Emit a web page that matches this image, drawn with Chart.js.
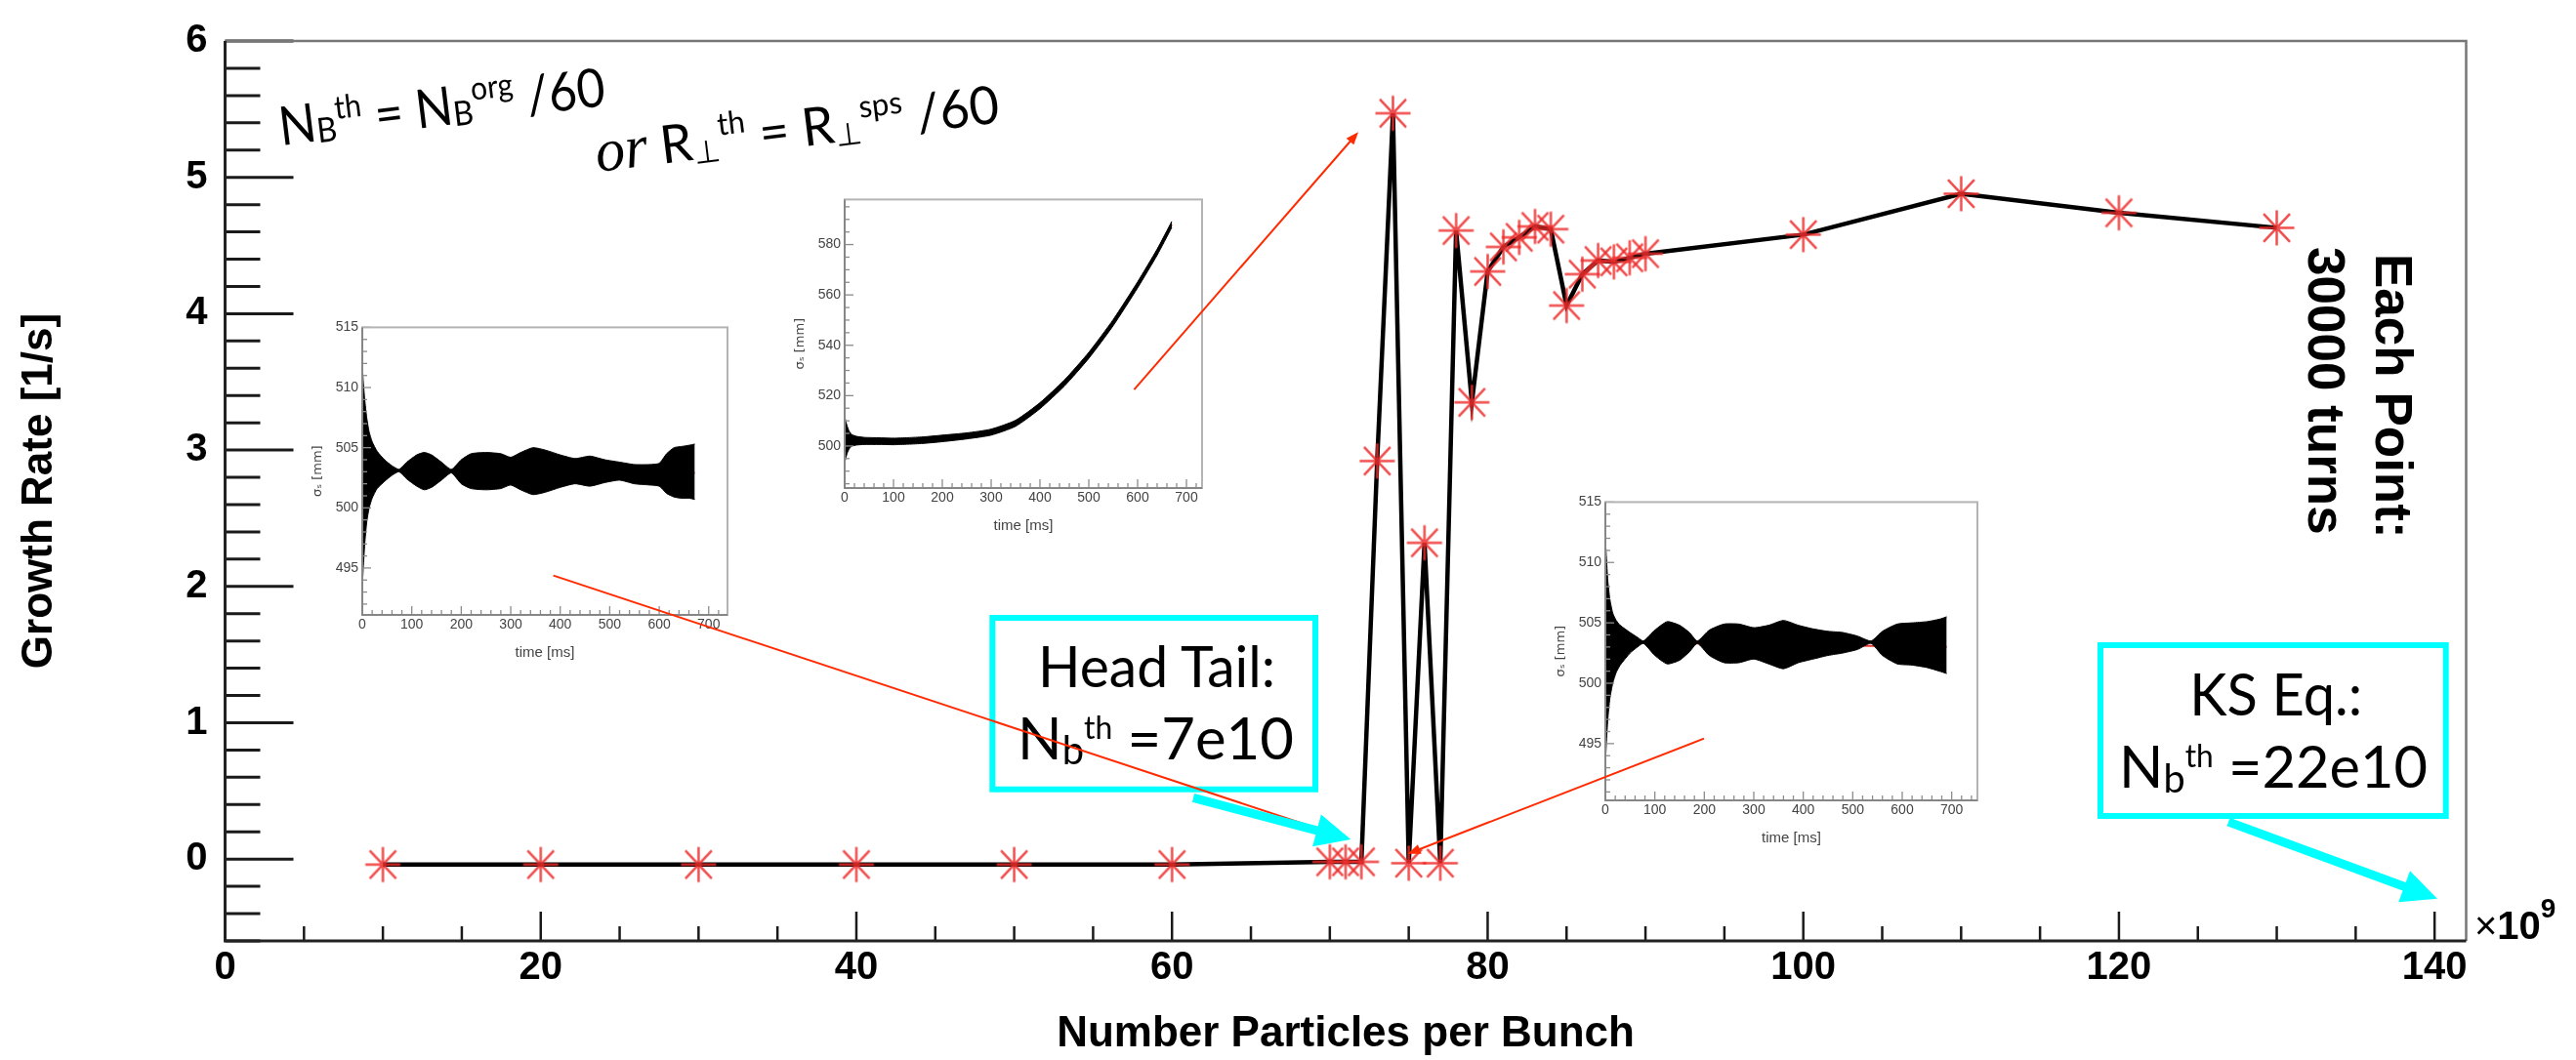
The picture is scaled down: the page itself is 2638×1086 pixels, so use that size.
<!DOCTYPE html>
<html>
<head>
<meta charset="utf-8">
<title>Growth Rate vs Number Particles per Bunch</title>
<script src="https://cdn.jsdelivr.net/npm/chart.js@4.4.1/dist/chart.umd.min.js"></script>
<style>
  html, body { margin: 0; padding: 0; background: #fff; }
  #stage { position: relative; width: 2638px; height: 1086px; overflow: hidden; background: #fff; }
  #stage canvas, #stage svg { position: absolute; }
</style>
</head>
<body>
<div id="stage">
  <canvas id="growthChart" width="2638" height="1086" style="left:0;top:0"></canvas>
  <svg id="overlay" width="2638" height="1086" style="left:0;top:0" xmlns="http://www.w3.org/2000/svg"></svg>
</div>
<script>
// ---- main curve: growth rate vs particles per bunch (x in 1e9) ----
const growthX = [10, 20, 30, 40, 50, 60, 70, 71, 72, 73, 74, 75, 76, 77, 78, 79, 80, 81, 82, 83, 84, 85, 86, 87, 88, 89, 90, 100, 110, 120, 130];
const growthY = [-0.04, -0.04, -0.04, -0.04, -0.04, -0.04, -0.02, -0.02, -0.02, 2.92, 5.47, -0.03, 2.32, -0.03, 4.61, 3.35, 4.31, 4.49, 4.56, 4.64, 4.62, 4.06, 4.29, 4.39, 4.38, 4.41, 4.44, 4.58, 4.88, 4.74, 4.63];
const xTickValues = [0, 20, 40, 60, 80, 100, 120, 140];
const yTickValues = [0, 1, 2, 3, 4, 5, 6];

// ---- inset 1 : sigma_s vs time, stable case ----
const ins1Time  = [0, 2, 5, 9, 14, 20, 30, 45, 60, 74, 90, 110, 125, 140, 160, 180, 200, 220, 250, 280, 300, 320, 345, 370, 400, 430, 460, 490, 520, 550, 580, 600, 615, 630, 645, 660, 672];
const ins1Upper = [512.0, 510.5, 509.0, 507.5, 506.3, 505.5, 504.7, 504.0, 503.5, 503.2, 503.8, 504.4, 504.6, 504.4, 503.8, 503.2, 504.0, 504.5, 504.6, 504.5, 504.2, 504.6, 505.0, 504.8, 504.4, 504.1, 504.3, 504.0, 503.8, 503.6, 503.6, 503.7, 504.5, 505.0, 505.1, 505.2, 505.3];
const ins1Lower = [493.3, 495.0, 497.0, 498.8, 500.0, 500.8, 501.6, 502.2, 502.7, 503.0, 502.4, 501.8, 501.5, 501.7, 502.3, 502.9, 502.0, 501.6, 501.5, 501.6, 501.9, 501.5, 501.1, 501.3, 501.7, 502.0, 501.8, 502.1, 502.3, 502.0, 501.9, 501.8, 501.2, 500.9, 500.8, 500.8, 500.7];
const ins1FitT  = [5, 672];
const ins1Fit   = [503.1, 502.9];

// ---- inset 2 : sigma_s vs time, unstable (growing) case ----
const ins2Time  = [0, 2, 5, 9, 15, 25, 40, 60, 80, 100, 130, 160, 200, 250, 300, 350, 400, 450, 500, 550, 600, 640, 670];
const ins2Upper = [512.2, 510.0, 508.0, 506.0, 504.5, 503.8, 503.4, 503.3, 503.2, 503.1, 503.3, 503.6, 504.3, 505.2, 506.7, 510.2, 517.2, 526.2, 537.2, 550.2, 565.2, 578.2, 589.2];
const ins2Lower = [493.0, 495.0, 497.0, 498.8, 500.0, 500.4, 500.6, 500.6, 500.6, 500.5, 500.7, 501.0, 501.7, 502.8, 504.3, 507.8, 514.8, 523.8, 534.8, 547.8, 562.8, 575.8, 586.8];
const ins2FitT  = [10, 100, 200, 300, 400, 500, 600, 670];
const ins2Fit   = [502.2, 501.9, 503.0, 505.5, 516.0, 536.0, 564.0, 588.0];

// ---- inset 3 : sigma_s vs time, stable case ----
const ins3Time  = [0, 2, 5, 9, 15, 22, 30, 50, 65, 77, 100, 125, 150, 170, 186, 210, 240, 270, 300, 330, 360, 390, 420, 450, 480, 510, 537, 560, 590, 620, 650, 675, 690];
const ins3Upper = [512.1, 510.5, 508.5, 507.0, 505.8, 505.2, 504.8, 504.2, 503.8, 503.5, 504.4, 505.1, 504.8, 504.2, 503.5, 504.4, 504.9, 504.9, 504.6, 504.8, 505.2, 504.8, 504.5, 504.3, 504.2, 503.9, 503.5, 504.3, 504.9, 505.0, 505.1, 505.3, 505.5];
const ins3Lower = [493.2, 495.0, 497.0, 498.7, 500.0, 500.9, 501.5, 502.5, 503.0, 503.3, 502.3, 501.6, 501.9, 502.6, 503.3, 502.3, 501.7, 501.7, 502.0, 501.6, 501.2, 501.7, 502.0, 502.3, 502.5, 502.8, 503.3, 502.3, 501.6, 501.5, 501.3, 501.0, 500.8];
const ins3FitT  = [5, 690];
const ins3Fit   = [503.4, 503.0];

const insetXTicks = [0, 100, 200, 300, 400, 500, 600, 700];
const insetYTicks = [495, 500, 505, 510, 515];
const inset2YTicks = [500, 520, 540, 560, 580];

Chart.defaults.font.family = '"Liberation Sans", Arial, Helvetica, sans-serif';
Chart.defaults.color = '#000';

const pts = (xs, ys) => xs.map((x, i) => ({ x: x, y: ys[i] }));

// ROOT style asterisk marker
function makeStar(r, color, lw) {
    const c = document.createElement('canvas');
    const s = Math.ceil(2 * r + 2 * lw);
    c.width = s; c.height = s;
    const g = c.getContext('2d');
    g.translate(s / 2, s / 2);
    g.strokeStyle = color;
    g.lineWidth = lw;
    g.beginPath();
    g.moveTo(-r, 0); g.lineTo(r, 0);
    g.moveTo(0, -r); g.lineTo(0, r);
    g.moveTo(-0.75 * r, -0.8 * r); g.lineTo(0.75 * r, 0.8 * r);
    g.moveTo(0.75 * r, -0.8 * r); g.lineTo(-0.75 * r, 0.8 * r);
    g.stroke();
    return c;
}

// frame + inward ticks like a ROOT canvas
const rootFrame = {
    id: 'rootFrame',
    beforeDatasetsDraw(chart) {
        const { ctx, chartArea: a, scales: { x, y } } = chart;
        ctx.save();
        ctx.strokeStyle = '#1a1a1a';
        ctx.lineWidth = 3;
        for (let k = -3; k <= 30; k++) {
            const p = y.getPixelForValue(k / 5);
            const len = k % 5 === 0 ? 70 : 36;
            ctx.beginPath(); ctx.moveTo(a.left, p); ctx.lineTo(a.left + len, p); ctx.stroke();
        }
        ctx.lineWidth = 2.5;
        for (let k = 1; k <= 28; k++) {
            const p = x.getPixelForValue(k * 5);
            const len = k % 4 === 0 ? 30 : 15;
            ctx.beginPath(); ctx.moveTo(p, a.bottom); ctx.lineTo(p, a.bottom - len); ctx.stroke();
        }
        // top / right frame
        ctx.strokeStyle = '#777';
        ctx.lineWidth = 2.5;
        ctx.beginPath();
        ctx.moveTo(a.left, a.top); ctx.lineTo(a.right, a.top); ctx.lineTo(a.right, a.bottom);
        ctx.stroke();
        // axes
        ctx.strokeStyle = '#222';
        ctx.lineWidth = 3;
        ctx.beginPath();
        ctx.moveTo(a.left, a.top); ctx.lineTo(a.left, a.bottom); ctx.lineTo(a.right, a.bottom);
        ctx.stroke();
        ctx.restore();
    }
};

const starImg = makeStar(18, 'rgba(238,45,45,0.85)', 2.5);

const mainChart = new Chart(document.getElementById('growthChart'), {
    type: 'line',
    data: {
        datasets: [{
            data: pts(growthX, growthY),
            borderColor: '#000',
            borderWidth: 4.5,
            tension: 0,
            fill: false,
            pointStyle: starImg,
            pointRadius: 18
        }]
    },
    options: {
        responsive: false,
        animation: false,
        events: [],
        layout: { padding: { top: 27, right: 112.5, left: 0, bottom: 0 } },
        plugins: { legend: { display: false }, tooltip: { enabled: false } },
        scales: {
            x: {
                type: 'linear', min: 0, max: 142,
                afterBuildTicks: s => { s.ticks = xTickValues.map(v => ({ value: v })); },
                afterFit: s => { s.height = 122; },
                grid: { display: false, drawTicks: false },
                border: { display: false },
                ticks: { font: { size: 40, weight: 'bold' }, padding: 4, maxRotation: 0, autoSkip: false },
                title: { display: true, text: 'Number Particles per Bunch', font: { size: 44, weight: 'bold' }, padding: { top: 0, bottom: 0 } }
            },
            y: {
                type: 'linear', min: -0.6, max: 6,
                afterBuildTicks: s => { s.ticks = yTickValues.map(v => ({ value: v })); },
                afterFit: s => { s.width = 230.5; },
                grid: { display: false, drawTicks: false },
                border: { display: false },
                ticks: { font: { size: 40, weight: 'bold' }, padding: 18 },
                title: { display: true, text: 'Growth Rate [1/s]', font: { size: 44, weight: 'bold' }, padding: { top: 14, bottom: 0 } }
            }
        }
    },
    plugins: [rootFrame]
});

// ---- small sigma_s(t) insets ----
const insetFrame = {
    id: 'insetFrame',
    afterDatasetsDraw(chart, args, opts) {
        const { ctx, chartArea: a, scales: { x, y } } = chart;
        ctx.save();
        ctx.strokeStyle = '#8c8c8c';
        ctx.lineWidth = 1.3;
        for (let v = Math.ceil(y.min / opts.yMinor) * opts.yMinor; v <= y.max; v += opts.yMinor) {
            const p = y.getPixelForValue(v);
            const len = opts.yMajors.includes(v) ? 9 : 5;
            ctx.beginPath(); ctx.moveTo(a.left, p); ctx.lineTo(a.left + len, p); ctx.stroke();
        }
        for (let v = 20; v <= x.max; v += 20) {
            const p = x.getPixelForValue(v);
            const len = v % 100 === 0 ? 9 : 5;
            ctx.beginPath(); ctx.moveTo(p, a.bottom); ctx.lineTo(p, a.bottom - len); ctx.stroke();
        }
        ctx.strokeStyle = '#b4b4b4';
        ctx.lineWidth = 2;
        ctx.strokeRect(a.left, a.top, a.right - a.left, a.bottom - a.top);
        ctx.strokeStyle = '#777';
        ctx.lineWidth = 1.5;
        ctx.beginPath(); ctx.moveTo(a.left, a.top); ctx.lineTo(a.left, a.bottom); ctx.lineTo(a.right, a.bottom); ctx.stroke();
        ctx.restore();
    }
};

function insetChart(frame, xMax, yMin, yMax, yTicks, yMinor, t, up, lo, fitT, fit) {
    const padL = 60, padT = 10, padR = 12, padB = 48;
    const cv = document.createElement('canvas');
    cv.width = frame.right - frame.left + padL + padR;
    cv.height = frame.bottom - frame.top + padT + padB;
    cv.style.left = (frame.left - padL) + 'px';
    cv.style.top = (frame.top - padT) + 'px';
    const stage = document.getElementById('stage');
    stage.insertBefore(cv, document.getElementById('overlay'));
    const small = { size: 14 };
    return new Chart(cv, {
        type: 'line',
        data: {
            datasets: [
                { data: pts(t, up), borderColor: '#000', borderWidth: 1, pointRadius: 0, tension: 0.2, fill: false },
                { data: pts(t, lo), borderColor: '#000', borderWidth: 1, pointRadius: 0, tension: 0.2, fill: '-1', backgroundColor: '#000' },
                { data: pts(fitT, fit), borderColor: '#e8332a', borderWidth: 2, pointRadius: 0, tension: 0.4, fill: false }
            ]
        },
        options: {
            responsive: false,
            animation: false,
            events: [],
            layout: { padding: { top: padT, right: padR, left: 0, bottom: 0 } },
            plugins: {
                legend: { display: false }, tooltip: { enabled: false },
                insetFrame: { yMinor: yMinor, yMajors: yTicks }
            },
            scales: {
                x: {
                    type: 'linear', min: 0, max: xMax,
                    afterBuildTicks: s => { s.ticks = insetXTicks.map(v => ({ value: v })); },
                    afterFit: s => { s.height = padB; },
                    grid: { display: false, drawTicks: false },
                    border: { display: false },
                    ticks: { font: small, color: '#444', padding: 2, maxRotation: 0, autoSkip: false },
                    title: { display: true, text: 'time [ms]', color: '#444', font: { size: 15 }, padding: { top: 0, bottom: 0 } }
                },
                y: {
                    type: 'linear', min: yMin, max: yMax,
                    afterBuildTicks: s => { s.ticks = yTicks.map(v => ({ value: v })); },
                    afterFit: s => { s.width = padL; },
                    grid: { display: false, drawTicks: false },
                    border: { display: false },
                    ticks: { font: small, color: '#444', padding: 4 },
                    title: { display: true, text: 'σₛ [mm]', color: '#444', font: { size: 13, family: '"DejaVu Sans", sans-serif' }, padding: { top: 7, bottom: 0 } }
                }
            }
        },
        plugins: [insetFrame]
    });
}

insetChart({ left: 371, top: 333, right: 745, bottom: 630 }, 738, 491.1, 515, insetYTicks, 1,
    ins1Time, ins1Upper, ins1Lower, ins1FitT, ins1Fit);
insetChart({ left: 865, top: 202, right: 1231, bottom: 500 }, 732, 483.3, 597.9, inset2YTicks, 5,
    ins2Time, ins2Upper, ins2Lower, ins2FitT, ins2Fit);
insetChart({ left: 1644, top: 512, right: 2025, bottom: 820 }, 752, 490.3, 515, insetYTicks, 1,
    ins3Time, ins3Upper, ins3Lower, ins3FitT, ins3Fit);

// ---- annotations (arrows given in data coordinates of the main chart) ----
const redArrows = [
    [20.80, 2.08, 70.71, 0.168],
    [57.60, 3.443, 71.81, 5.333],
    [93.71, 0.884, 74.94, 0.039]
];
const cyanArrows = [
    [61.35, 0.449, 71.33, 0.144],
    [126.94, 0.273, 140.17, -0.290]
];

const sx = v => mainChart.scales.x.getPixelForValue(v);
const sy = v => mainChart.scales.y.getPixelForValue(v);

function arrowSvg(d, color, shaft, headLen, headHalf) {
    const x0 = sx(d[0]), y0 = sy(d[1]), x1 = sx(d[2]), y1 = sy(d[3]);
    const len = Math.hypot(x1 - x0, y1 - y0);
    const ux = (x1 - x0) / len, uy = (y1 - y0) / len;
    const bx = x1 - ux * headLen, by = y1 - uy * headLen;
    const p1 = (bx - uy * headHalf) + ',' + (by + ux * headHalf);
    const p2 = (bx + uy * headHalf) + ',' + (by - ux * headHalf);
    return `<line x1="${x0}" y1="${y0}" x2="${bx + ux * 2}" y2="${by + uy * 2}" stroke="${color}" stroke-width="${shaft}"/>` +
        `<polygon points="${x1},${y1} ${p1} ${p2}" fill="${color}"/>`;
}

const gill = 'font-family="Lato, \'Open Sans\', sans-serif"';
let svg = '';
svg += `<rect x="1016.3" y="633" width="330.7" height="175.7" fill="none" stroke="#00ffff" stroke-width="6"/>`;
svg += `<rect x="2151" y="661" width="353.7" height="175" fill="none" stroke="#00ffff" stroke-width="6"/>`;
svg += `<g ${gill} fill="#000" style="white-space:pre">
  <text x="1184.5" y="704" text-anchor="middle" font-size="58" textLength="243" lengthAdjust="spacingAndGlyphs">Head Tail:</text>
  <text x="1183.5" y="778" text-anchor="middle" font-size="60" textLength="283" lengthAdjust="spacingAndGlyphs">N<tspan font-size="40" dy="5">b</tspan><tspan font-size="32" dy="-26">th</tspan><tspan dy="21"> =7e10</tspan></text>
  <text x="2330.7" y="733" text-anchor="middle" font-size="60" textLength="177" lengthAdjust="spacingAndGlyphs">KS Eq.:</text>
  <text x="2328" y="807" text-anchor="middle" font-size="60" textLength="316" lengthAdjust="spacingAndGlyphs">N<tspan font-size="40" dy="5">b</tspan><tspan font-size="32" dy="-26">th</tspan><tspan dy="21"> =22e10</tspan></text>
  <text transform="translate(288,149) rotate(-7)" font-size="55" textLength="336" lengthAdjust="spacingAndGlyphs">N<tspan font-size="35" dy="2">B</tspan><tspan font-size="33" dy="-22">th</tspan><tspan dy="20"> = N</tspan><tspan font-size="35" dy="2">B</tspan><tspan font-size="33" dy="-24">org</tspan><tspan dy="22"> /60</tspan></text>
  <text transform="translate(612,176) rotate(-7)" font-size="54" textLength="416" lengthAdjust="spacingAndGlyphs"><tspan font-family="'Liberation Serif', serif" font-style="italic" font-size="62">or</tspan>  R<tspan font-size="32" dy="4">⊥</tspan><tspan font-size="32" dy="-26">th</tspan><tspan dy="22"> = R</tspan><tspan font-size="32" dy="4">⊥</tspan><tspan font-size="32" dy="-26">sps</tspan><tspan dy="22"> /60</tspan></text>
</g>`;
svg += `<g font-family="'Liberation Sans', Arial, sans-serif" font-weight="bold" fill="#000">
  <text transform="translate(2433,260) rotate(90)" font-size="53">Each Point:</text>
  <text transform="translate(2364,253) rotate(90)" font-size="53">30000 turns</text>
  <text x="2534" y="962" font-size="40"><tspan font-weight="normal">×</tspan>10<tspan font-size="28" dy="-22">9</tspan></text>
</g>`;
redArrows.forEach(d => { svg += arrowSvg(d, '#ff2a00', 2, 13, 5); });
cyanArrows.forEach(d => { svg += arrowSvg(d, '#00ffff', 9, 36, 17); });
document.getElementById('overlay').innerHTML = svg;
</script>
</body>
</html>
